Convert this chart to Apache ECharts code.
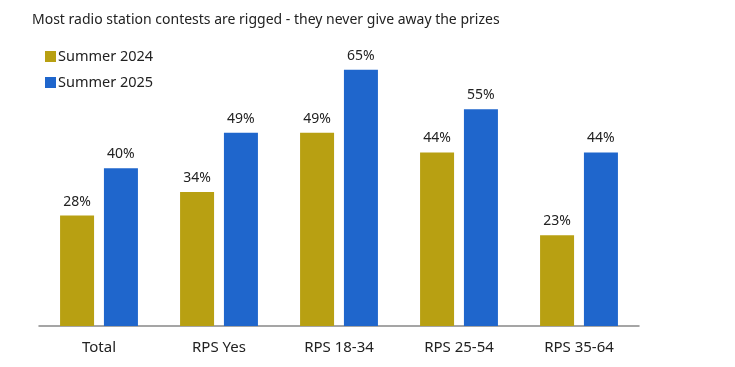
<!DOCTYPE html>
<html>
<head>
<meta charset="utf-8">
<script src="https://cdn.jsdelivr.net/npm/echarts@6/dist/echarts.min.js"></script>
<style>html,body{margin:0;padding:0;background:#fff}#c{width:735px;height:367px}</style>
</head>
<body>
<div id="c"></div>
<script>
const categories = ['Total', 'RPS Yes', 'RPS 18-34', 'RPS 25-54', 'RPS 35-64'];
const summer2024 = [28, 34, 49, 44, 23];
const summer2025 = [40, 49, 65, 55, 44];
const seriesNames = ['Summer 2024', 'Summer 2025'];

const chart = echarts.init(document.getElementById('c'));
const font = 'Noto Sans';
const labelStyle = {
  show: true, position: 'top', distance: 7,
  formatter: p => p.value + '%',
  color: '#222', fontSize: 14, fontFamily: font
};
chart.setOption({
  animation: false,
  title: {
    text: 'Most radio station contests are rigged - they never give away the prizes',
    left: 27, top: 8,
    textStyle: { fontSize: 14, fontWeight: 'normal', color: '#222', fontFamily: font }
  },
  legend: {
    orient: 'vertical', left: 40, top: 44, itemGap: 11,
    itemWidth: 11, itemHeight: 11, icon: 'rect',
    textStyle: { fontSize: 14.5, color: '#222', fontFamily: font, padding: [0, 0, 0, -3] },
    data: seriesNames
  },
  grid: { left: 39, right: 96, top: 50, bottom: 41 },
  xAxis: {
    type: 'category', data: categories,
    axisLine: { lineStyle: { color: '#888', width: 1.5 } },
    axisTick: { show: false },
    axisLabel: { color: '#222', fontSize: 15, fontFamily: font, margin: 14 }
  },
  yAxis: {
    type: 'value', min: 0, max: 70, show: false,
    splitLine: { show: false }
  },
  series: [
    { name: seriesNames[0], type: 'bar', data: summer2024, barWidth: 34, barGap: '29%',
      itemStyle: { color: '#B8A012' }, label: labelStyle },
    { name: seriesNames[1], type: 'bar', data: summer2025, barWidth: 34,
      itemStyle: { color: '#1F66CC' }, label: labelStyle }
  ]
});
</script>
</body>
</html>
